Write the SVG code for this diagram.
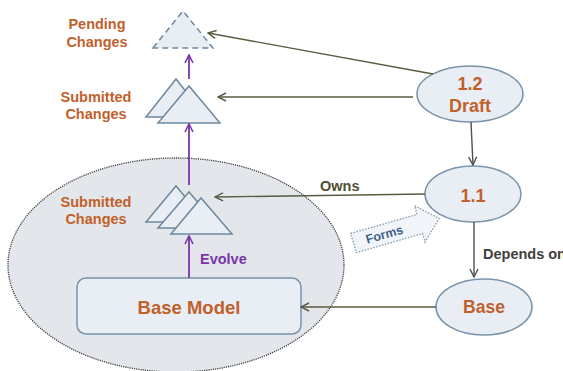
<svg xmlns="http://www.w3.org/2000/svg" width="563" height="371" viewBox="0 0 563 371">
<defs>
<marker id="ah" markerWidth="10" markerHeight="10" refX="9" refY="5" orient="auto" markerUnits="userSpaceOnUse">
<path d="M1,1 L9,5 L1,9" fill="none" stroke="#5a5a40" stroke-width="1.4"/>
</marker>
<marker id="ahd" markerWidth="10" markerHeight="10" refX="9" refY="5" orient="auto" markerUnits="userSpaceOnUse">
<path d="M1,1 L9,5 L1,9" fill="none" stroke="#505050" stroke-width="1.4"/>
</marker>
<marker id="ahp" markerWidth="10" markerHeight="10" refX="9" refY="5" orient="auto" markerUnits="userSpaceOnUse">
<path d="M1,1 L9,5 L1,9" fill="none" stroke="#7a35a8" stroke-width="1.6"/>
</marker>
<style>
.t{font-family:"Liberation Sans",Arial,sans-serif;font-weight:bold}
.or{fill:#c2602a}
.node{fill:#e9eef5;stroke:#7a93a9;stroke-width:1.5}
.tri{fill:#e9eef5;stroke:#6f889e;stroke-width:1.5;stroke-linejoin:miter}
.ol{stroke:#5a5a40;stroke-width:1.4;fill:none}
.pl{stroke:#7a35a8;stroke-width:1.8;fill:none}
</style>
</defs>

<g id="group-ellipse">
<ellipse cx="176" cy="265" rx="168" ry="107" fill="#e3e7ec" stroke="#3c3c3c" stroke-width="1.3" stroke-dasharray="1.2,1"/>
</g>

<g id="pending">
<polygon points="153,48 183,11 213,48" fill="#e9eef5" stroke="#6f889e" stroke-width="1.5" stroke-dasharray="6,4"/>
<text class="t or" x="97" y="29" font-size="14.5" text-anchor="middle">Pending</text>
<text class="t or" x="97" y="46.5" font-size="14.5" text-anchor="middle">Changes</text>
</g>

<g id="submitted-top">
<polygon class="tri" points="146,117 176,79 206,117"/>
<polygon class="tri" points="158,123 189,86 220,123"/>
<text class="t or" x="96" y="102" font-size="14.5" text-anchor="middle">Submitted</text>
<text class="t or" x="96" y="119" font-size="14.5" text-anchor="middle">Changes</text>
</g>

<g id="submitted-inner">
<polygon class="tri" points="146,222 176,186 206,222"/>
<polygon class="tri" points="158,228 189,192 220,228"/>
<polygon class="tri" points="171,234 201,198 232,234"/>
<text class="t or" x="96" y="207" font-size="14.5" text-anchor="middle">Submitted</text>
<text class="t or" x="96" y="224" font-size="14.5" text-anchor="middle">Changes</text>
</g>

<g id="base-model">
<rect class="node" x="77" y="278" width="224" height="56" rx="9"/>
<text class="t or" x="189" y="314" font-size="18.5" text-anchor="middle">Base Model</text>
</g>

<g id="draft">
<ellipse class="node" cx="470" cy="94" rx="53" ry="28"/>
<text class="t or" x="470" y="90" font-size="18" text-anchor="middle">1.2</text>
<text class="t or" x="470" y="112" font-size="18" text-anchor="middle">Draft</text>
</g>

<g id="v11">
<ellipse class="node" cx="473" cy="194" rx="48" ry="28"/>
<text class="t or" x="473" y="202" font-size="18" text-anchor="middle">1.1</text>
</g>

<g id="base">
<ellipse class="node" cx="484" cy="307" rx="48" ry="28"/>
<text class="t or" x="484" y="313" font-size="17.5" text-anchor="middle">Base</text>
</g>

<g id="forms">
<g transform="translate(353.5,243) rotate(-16)">
<polygon points="0,-10 69,-10 69,-19 89,0 69,19 69,10 0,10" fill="#f1f5f9" stroke="#7f9bb3" stroke-width="1.3" stroke-dasharray="1.5,1.5"/>
<text class="t" x="32" y="4.5" font-size="12.5" fill="#3f6186" text-anchor="middle">Forms</text>
</g>
</g>

<g id="connectors">
<line class="pl" x1="189" y1="79" x2="189" y2="55" marker-end="url(#ahp)"/>
<line class="pl" x1="189" y1="185" x2="189" y2="124" marker-end="url(#ahp)"/>
<line class="pl" x1="189" y1="278" x2="189" y2="236" marker-end="url(#ahp)"/>
<line class="ol" x1="433" y1="74" x2="208" y2="33" marker-end="url(#ah)"/>
<line class="ol" x1="413" y1="97" x2="218" y2="97" marker-end="url(#ah)"/>
<line class="ol" x1="425" y1="194" x2="215" y2="197" marker-end="url(#ah)"/>
<line class="ol" x1="436" y1="307" x2="301" y2="307" marker-end="url(#ah)"/>
<line x1="471" y1="122" x2="473" y2="165" stroke="#505050" stroke-width="1.4" marker-end="url(#ahd)"/>
<line x1="474" y1="222" x2="474" y2="277" stroke="#505050" stroke-width="1.4" marker-end="url(#ahd)"/>
<text class="t" x="320" y="191" font-size="14.5" fill="#4f4f33">Owns</text>
<text class="t" x="200" y="264" font-size="14.5" fill="#7a35a8">Evolve</text>
<text class="t" x="483" y="259" font-size="14.5" fill="#404040">Depends on</text>
</g>
</svg>
